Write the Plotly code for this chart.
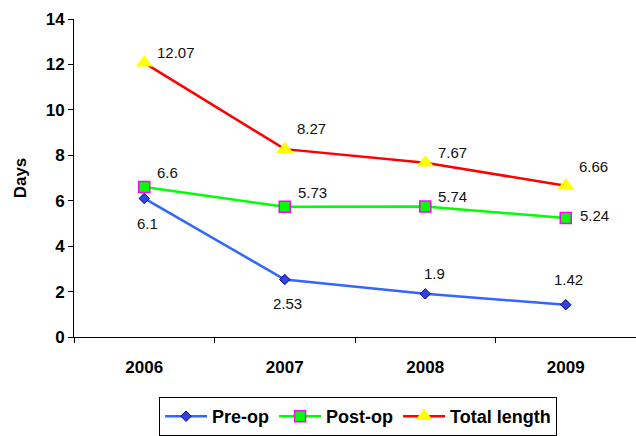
import plotly.graph_objects as go

years = ["2006", "2007", "2008", "2009"]
pre_op = [6.1, 2.53, 1.9, 1.42]
post_op = [6.6, 5.73, 5.74, 5.24]
total_length = [12.07, 8.27, 7.67, 6.66]
y_ticks = [0, 2, 4, 6, 8, 10, 12, 14]

FONT = "Liberation Sans, Arial, sans-serif"

fig = go.Figure()

fig.add_trace(go.Scatter(
    x=years, y=pre_op, name="Pre-op", mode="lines+markers",
    line=dict(color="#3366ff", width=2.5),
    marker=dict(symbol="diamond", size=8, color="#3344dd",
                line=dict(color="#000080", width=1)),
))
fig.add_trace(go.Scatter(
    x=years, y=post_op, name="Post-op", mode="lines+markers",
    line=dict(color="#00ff00", width=2.5),
    marker=dict(symbol="square", size=11, color="#00ff00",
                line=dict(color="#ff00ff", width=1.5)),
))
fig.add_trace(go.Scatter(
    x=years, y=total_length, name="Total length", mode="lines+markers",
    line=dict(color="#ff0000", width=2.5),
    marker=dict(symbol="triangle-up", size=15, color="#ffff00",
                line=dict(width=0)),
))

# value labels: (series, pixel offsets per point)
label_sets = [
    (pre_op, [(3, -25), (3, -24), (9, 20), (3, 25)]),
    (post_op, [(23, 15), (28, 14), (27, 10), (29, 2)]),
    (total_length, [(32, 10), (27, 21), (27, 10), (28, 19)]),
]
annotations = []
for values, offsets in label_sets:
    for i, (v, (dx, dy)) in enumerate(zip(values, offsets)):
        annotations.append(dict(
            x=i, y=v, xref="x", yref="y", text=f"{v:g}",
            showarrow=False, xshift=dx, yshift=dy,
            font=dict(family=FONT, size=15, color="#111111"),
        ))

fig.update_layout(
    width=636, height=436,
    margin=dict(l=74, r=0, t=19, b=99),
    paper_bgcolor="white", plot_bgcolor="white",
    font=dict(family=FONT, color="black"),
    showlegend=True,
    legend=dict(
        orientation="h", x=0.563, xanchor="center", xref="container",
        y=-0.015, yanchor="bottom", yref="container",
        bordercolor="black", borderwidth=1,
        font=dict(family=FONT, size=18, color="black", weight="bold"),
        itemwidth=42, tracegroupgap=0,
    ),
    annotations=annotations,
)

fig.update_xaxes(
    type="category", range=[-0.5, 3.5],
    showline=True, linecolor="black", linewidth=1,
    ticks="outside", ticklen=5, tickcolor="black", tickson="boundaries",
    showgrid=False, zeroline=False,
    tickfont=dict(family=FONT, size=17, color="black", weight="bold"),
    ticklabelstandoff=15,
)
fig.update_yaxes(
    range=[0, 14], tickvals=y_ticks,
    showline=True, linecolor="black", linewidth=1,
    ticks="outside", ticklen=5, tickcolor="black",
    showgrid=False, zeroline=False,
    tickfont=dict(family=FONT, size=17, color="black", weight="bold"),
    title=dict(text="Days", standoff=14,
               font=dict(family=FONT, size=17, color="black", weight="bold")),
)

fig.write_html("out.html")
